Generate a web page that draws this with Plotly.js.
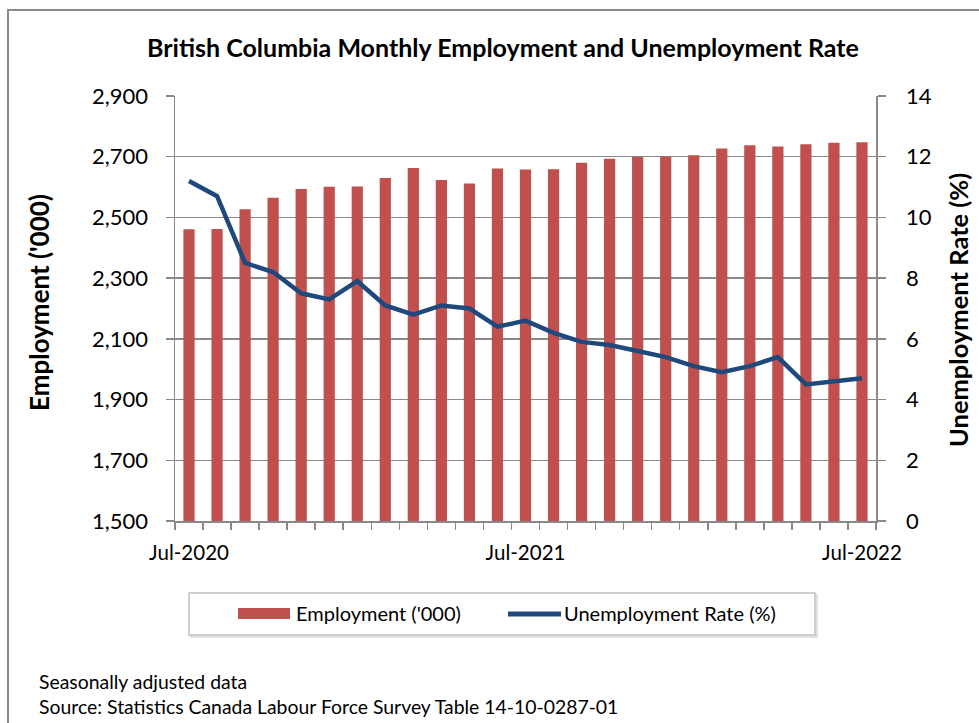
<!DOCTYPE html>
<html>
<head>
<meta charset="utf-8">
<script src="https://cdn.plot.ly/plotly-3.0.1.min.js"></script>
<style>
  html, body { margin: 0; padding: 0; background: #ffffff; }
  #chart { width: 979px; height: 723px; }
</style>
</head>
<body>
<div id="chart"></div>
<script>
// ---- Data ----
const months = [
  'Jul-2020','Aug-2020','Sep-2020','Oct-2020','Nov-2020','Dec-2020',
  'Jan-2021','Feb-2021','Mar-2021','Apr-2021','May-2021','Jun-2021',
  'Jul-2021','Aug-2021','Sep-2021','Oct-2021','Nov-2021','Dec-2021',
  'Jan-2022','Feb-2022','Mar-2022','Apr-2022','May-2022','Jun-2022',
  'Jul-2022'
];
const employment = [
  2461, 2462, 2527, 2565, 2594, 2601,
  2602, 2630, 2663, 2623, 2612, 2661,
  2658, 2659, 2680, 2693, 2699, 2700,
  2705, 2727, 2738, 2734, 2741, 2746,
  2748
];
const unemploymentRate = [
  11.2, 10.7, 8.5, 8.2, 7.5, 7.3,
  7.9, 7.1, 6.8, 7.1, 7.0, 6.4,
  6.6, 6.2, 5.9, 5.8, 5.6, 5.4,
  5.1, 4.9, 5.1, 5.4, 4.5, 4.6,
  4.7
];
const tickLabels = [
  'Jul-2020','','','','','',
  '','','','','','',
  'Jul-2021','','','','','',
  '','','','','','',
  'Jul-2022'
];
const employmentTicks = [1500, 1700, 1900, 2100, 2300, 2500, 2700, 2900];
const rateTicks = [0, 2, 4, 6, 8, 10, 12, 14];

const seriesNames = ["Employment ('000)", 'Unemployment Rate (%)'];
const axisTitles = ["Employment ('000)", 'Unemployment Rate (%)'];
const titleText = 'British Columbia Monthly Employment and Unemployment Rate';
const noteLines = ['Seasonally adjusted data', 'Source: Statistics Canada Labour Force Survey Table 14-10-0287-01'];

// ---- Styles ----
const FONT = 'Lato, "Open Sans", sans-serif';
const GRID = '#898989';
const BAR_COLOR = '#C0504D';
const LINE_COLOR = '#1F497D';

const traces = [
  {
    type: 'bar',
    name: seriesNames[0],
    x: months,
    y: employment,
    yaxis: 'y',
    marker: { color: BAR_COLOR, line: { width: 0 } },
    showlegend: false
  },
  {
    type: 'scatter',
    mode: 'lines',
    name: seriesNames[1],
    x: months,
    y: unemploymentRate,
    yaxis: 'y2',
    line: { color: LINE_COLOR, width: 4.5 },
    showlegend: false
  }
];

// paper coordinate helpers (plot area: x 175..876, y 96..521)
const PX0 = 175, PX1 = 876, PY0 = 521, PY1 = 96;
const px = v => (v - PX0) / (PX1 - PX0);
const py = v => (PY0 - v) / (PY0 - PY1);

const layout = {
  width: 979,
  height: 723,
  margin: { l: PX0, r: 979 - PX1, t: PY1, b: 723 - PY0, pad: 0 },
  paper_bgcolor: '#ffffff',
  plot_bgcolor: '#ffffff',
  font: { family: FONT, color: '#000000' },
  bargap: 0.6,
  title: {
    text: '<b>' + titleText + '</b>',
    font: { family: FONT, size: 25, color: '#000000' },
    xref: 'container', yref: 'container',
    x: 503 / 979, xanchor: 'center',
    y: 1 - 48 / 723, yanchor: 'middle'
  },
  xaxis: {
    type: 'category',
    range: [-0.5, months.length - 0.5],
    tickmode: 'array',
    tickvals: months,
    ticktext: tickLabels,
    tickangle: 0,
    tickson: 'boundaries',
    ticks: 'outside',
    ticklen: 7,
    tickwidth: 1.5,
    tickcolor: GRID,
    showgrid: false,
    showline: true,
    linecolor: GRID,
    linewidth: 1.5,
    tickfont: { family: FONT, size: 20.5, color: '#000000' },
    ticklabelstandoff: 13,
    automargin: false
  },
  yaxis: {
    range: [1500, 2900],
    tickmode: 'array',
    tickvals: employmentTicks,
    tickformat: ',d',
    ticks: 'outside',
    ticklen: 8,
    tickwidth: 1.5,
    tickcolor: GRID,
    showgrid: true,
    gridcolor: GRID,
    gridwidth: 1.5,
    zeroline: false,
    showline: true,
    linecolor: GRID,
    linewidth: 1.5,
    tickfont: { family: FONT, size: 22, color: '#000000' },
    ticklabelstandoff: 13,
    automargin: false
  },
  yaxis2: {
    overlaying: 'y',
    side: 'right',
    range: [0, 14],
    tickmode: 'array',
    tickvals: rateTicks,
    ticks: 'outside',
    ticklen: 8,
    tickwidth: 1.5,
    tickcolor: GRID,
    showgrid: false,
    zeroline: false,
    showline: true,
    linecolor: GRID,
    linewidth: 1.5,
    tickfont: { family: FONT, size: 22, color: '#000000' },
    ticklabelstandoff: 16,
    automargin: false
  },
  shapes: [
    // outer chart frame
    { type: 'rect', xref: 'paper', yref: 'paper',
      x0: px(8), x1: px(1010), y0: py(770), y1: py(10),
      line: { color: '#8a8a8a', width: 2 }, fillcolor: 'rgba(0,0,0,0)', layer: 'below' },
    // legend box shadow
    { type: 'rect', xref: 'paper', yref: 'paper',
      x0: px(191), x1: px(817), y0: py(637), y1: py(595),
      line: { color: '#d9d9d9', width: 1.5 }, fillcolor: 'rgba(0,0,0,0)' },
    // legend box
    { type: 'rect', xref: 'paper', yref: 'paper',
      x0: px(189), x1: px(815), y0: py(635), y1: py(593),
      line: { color: '#bfbfbf', width: 1.5 }, fillcolor: '#ffffff' },
    // employment swatch
    { type: 'rect', xref: 'paper', yref: 'paper',
      x0: px(238), x1: px(290), y0: py(619), y1: py(608),
      line: { width: 0 }, fillcolor: BAR_COLOR },
    // rate swatch
    { type: 'line', xref: 'paper', yref: 'paper',
      x0: px(508), x1: px(561), y0: py(614), y1: py(614),
      line: { color: LINE_COLOR, width: 5 } }
  ],
  annotations: [
    // axis titles
    { xref: 'paper', yref: 'paper', x: px(39), y: py(303), xanchor: 'center', yanchor: 'middle',
      textangle: -90, text: '<b>' + axisTitles[0] + '</b>', showarrow: false,
      font: { family: FONT, size: 26, color: '#000000' } },
    { xref: 'paper', yref: 'paper', x: px(958), y: py(310), xanchor: 'center', yanchor: 'middle',
      textangle: -90, text: '<b>' + axisTitles[1] + '</b>', showarrow: false,
      font: { family: FONT, size: 25.5, color: '#000000' } },
    // legend
    { xref: 'paper', yref: 'paper', x: px(294), y: py(613), xanchor: 'left', yanchor: 'middle',
      text: seriesNames[0], showarrow: false, font: { family: FONT, size: 20, color: '#000000' } },
    { xref: 'paper', yref: 'paper', x: px(562), y: py(613), xanchor: 'left', yanchor: 'middle',
      text: seriesNames[1], showarrow: false, font: { family: FONT, size: 20, color: '#000000' } },
    // notes
    { xref: 'paper', yref: 'paper', x: px(37), y: py(681), xanchor: 'left', yanchor: 'middle',
      text: noteLines[0], showarrow: false, font: { family: FONT, size: 19.4, color: '#000000' } },
    { xref: 'paper', yref: 'paper', x: px(37), y: py(706), xanchor: 'left', yanchor: 'middle',
      text: noteLines[1], showarrow: false, font: { family: FONT, size: 19.4, color: '#000000' } }
  ]
};

Plotly.newPlot('chart', traces, layout, { displayModeBar: false, staticPlot: true });
</script>
</body>
</html>
